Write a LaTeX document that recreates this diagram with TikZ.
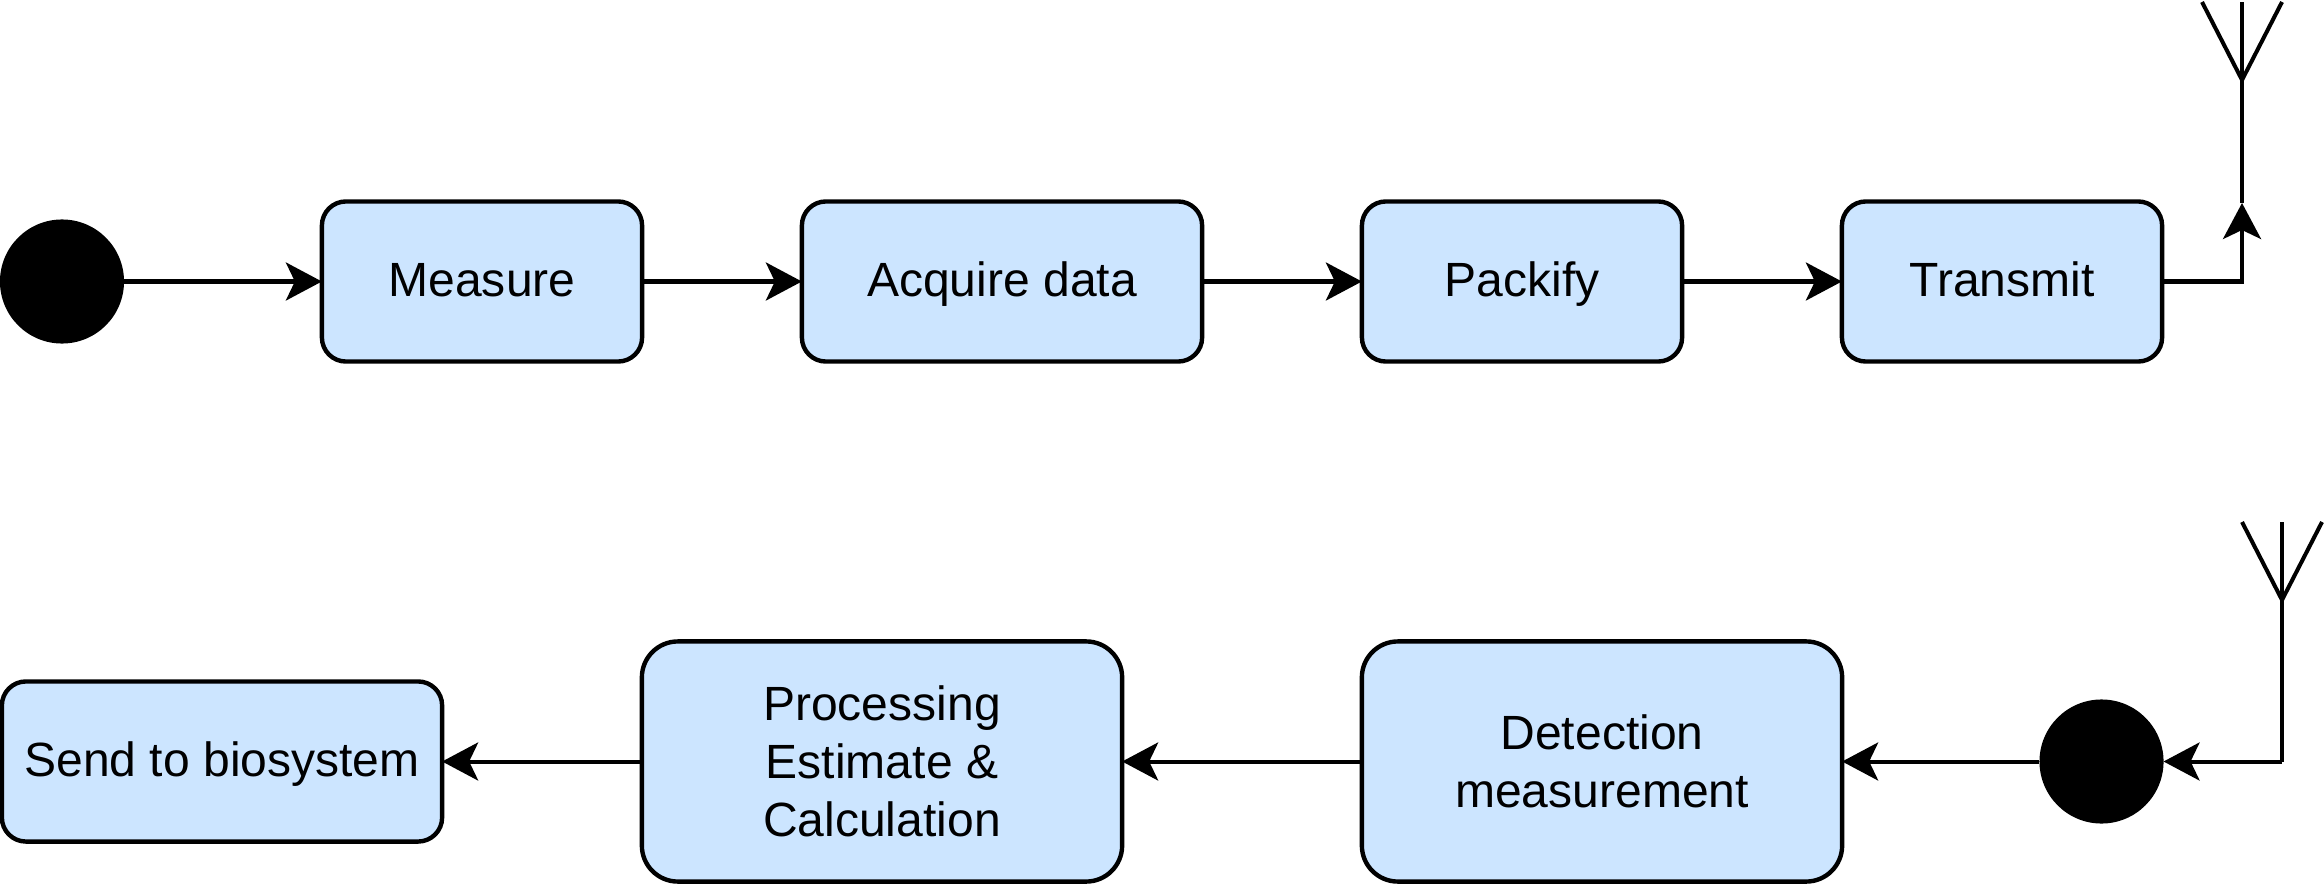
\documentclass[tikz,border=0pt]{standalone}
\usepackage{fontspec}
\setmainfont{Liberation Sans}
\usetikzlibrary{arrows.meta}
\definecolor{boxblue}{HTML}{CCE5FF}
\tikzset{
    block/.style={draw, line width=0.044cm, fill=boxblue, align=center, inner sep=0pt, outer sep=0pt,
        font=\fontsize{13.66}{16.5}\selectfont, minimum height=1.6cm, rounded corners=0.24cm},
    oneline/.style={block, text height=0.4cm, text depth=0.1cm},
    bigblock/.style={block, minimum height=2.4cm, rounded corners=0.36cm},
    dot/.style={circle, fill=black, draw=none, inner sep=0pt, outer sep=0pt, minimum size=1.24cm},
    link/.style={line width=0.04cm, -{Stealth[length=0.36cm, width=0.38cm, inset=0.09cm]}},
    aerial/.style={line width=0.04cm}
}
\begin{document}
\begin{tikzpicture}[x=0.01cm, y=-0.01cm]
            \useasboundingbox (0, 0) rectangle (2324, 888);

            \node [dot] (start) at (62, 281.5) {};
            \node [oneline, minimum width=3.2cm] (measure) at (482, 281.5) {Measure};
            \node [oneline, minimum width=4cm] (acquire) at (1002, 281.5) {Acquire data};
            \node [oneline, minimum width=3.2cm] (packify) at (1522, 281.5) {Packify};
            \node [oneline, minimum width=3.2cm] (transmit) at (2002, 281.5) {Transmit};

            \coordinate (txfoot) at (2242, 203);
            \coordinate (txapex) at (2242, 80);
            \coordinate (txtop) at (2242, 2);
            \coordinate (txleft) at (2202, 2);
            \coordinate (txright) at (2282, 2);

            \draw [link] (start) -- (measure);
            \draw [link] (measure) -- (acquire);
            \draw [link] (acquire) -- (packify);
            \draw [link] (packify) -- (transmit);
            \draw [link] (transmit) -| (txfoot);
            \draw [aerial] (txfoot) -- (txtop);
            \draw [aerial] (txleft) -- (txapex) -- (txright);

            \node [dot] (rxdot) at (2101.5, 761.5) {};
            \node [bigblock, minimum width=4.8cm] (detect) at (1602, 761.5) {Detection\\measurement};
            \node [bigblock, minimum width=4.8cm] (process) at (882, 761.5) {Processing\\Estimate \&\\Calculation};
            \node [oneline, minimum width=4.4cm] (send) at (222, 761.5) {Send to biosystem};

            \coordinate (rxfoot) at (2282, 761.5);
            \coordinate (rxapex) at (2282, 600);
            \coordinate (rxtop) at (2282, 522);
            \coordinate (rxleft) at (2242, 522);
            \coordinate (rxright) at (2322, 522);

            \draw [aerial] (rxtop) -- (rxfoot);
            \draw [aerial] (rxleft) -- (rxapex) -- (rxright);
            \draw [link] (rxfoot) -- (rxdot);
            \draw [link] (rxdot) -- (detect);
            \draw [link] (detect) -- (process);
            \draw [link] (process) -- (send);
        \end{tikzpicture}
\end{document}
